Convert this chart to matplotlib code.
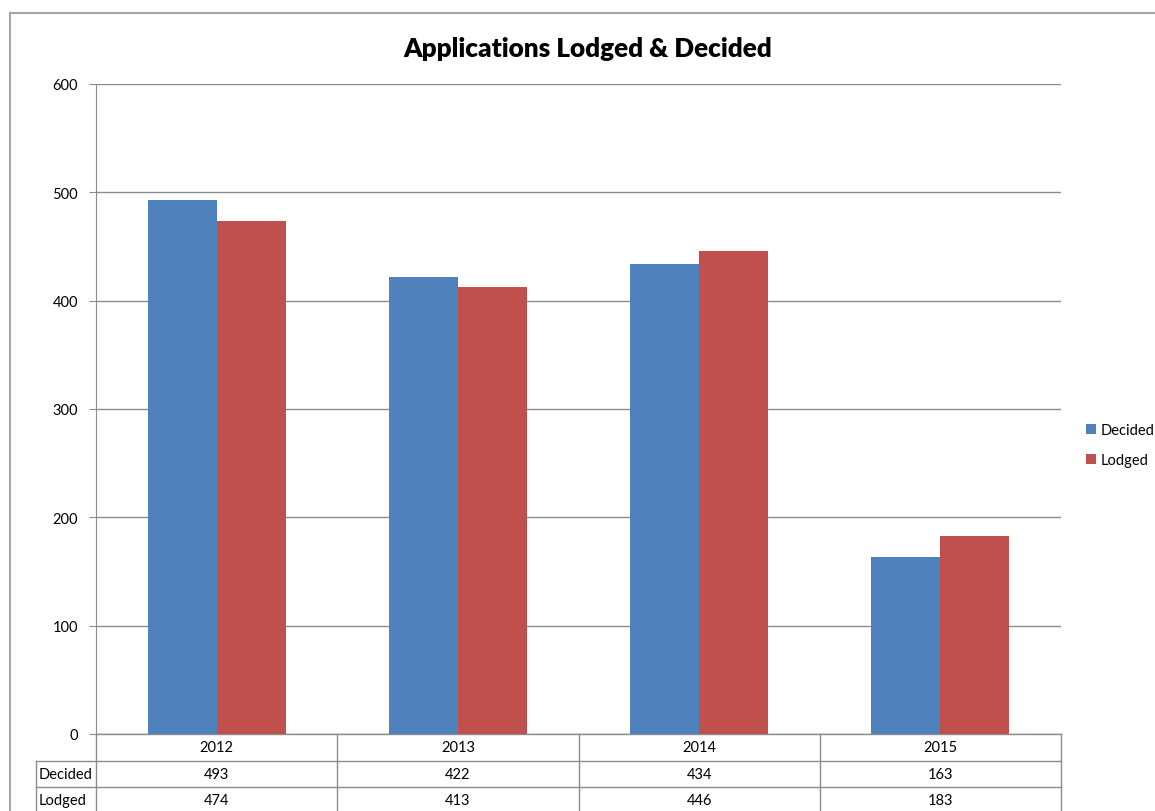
import matplotlib.pyplot as plt
from matplotlib.patches import Rectangle
from matplotlib.transforms import blended_transform_factory
import numpy as np

plt.rcParams['font.family'] = ['Lato', 'DejaVu Sans']

years = ['2012', '2013', '2014', '2015']
decided = [493, 422, 434, 163]
lodged = [474, 413, 446, 183]
series_names = ['Decided', 'Lodged']
colors = ['#4F81BD', '#C0504D']

W, H = 1155, 812
fig = plt.figure(figsize=(W / 100, H / 100), dpi=100)

# outer chart border (cropped at right/bottom)
fig.patches.append(Rectangle((10 / W, -0.1), 1.2, 1 - 14 / H + 0.1, transform=fig.transFigure,
                             fill=False, edgecolor='#a6a6a6', linewidth=1.5))

left, right, top, bottom = 96, 1061, 85, 735
ax = fig.add_axes([left / W, 1 - bottom / H, (right - left) / W, (bottom - top) / H])

x = np.arange(len(years))
bw = 0.286
ax.bar(x - bw / 2, decided, bw, color=colors[0], label=series_names[0], zorder=3)
ax.bar(x + bw / 2, lodged, bw, color=colors[1], label=series_names[1], zorder=3)

ax.set_xlim(-0.5, len(years) - 0.5)
ax.set_ylim(0, 600)
ax.set_yticks(range(0, 601, 100))
ax.yaxis.grid(True, color='#8c8c8c', linewidth=1)
ax.set_axisbelow(True)
for s in ['top', 'right', 'bottom']:
    ax.spines[s].set_visible(False)
ax.spines['left'].set_color('#8c8c8c')
ax.tick_params(axis='y', length=5, color='#8c8c8c', labelsize=10.5, pad=8)
ax.set_xticks([])

ax.set_title('Applications Lodged & Decided', fontsize=18.8, fontweight='heavy', pad=20, x=0.51)

# data table under the axis
tr = blended_transform_factory(ax.transData, ax.transAxes)
rh = 26.5 / (bottom - top)
lc = '#8c8c8c'
n = len(years)
rows = [decided, lodged]
xl = -0.5 - 60 / ((right - left) / n)
# horizontal lines
for i in range(4):
    y = -i * rh
    x0 = -0.5 if i == 0 else xl
    ax.plot([x0, n - 0.5], [y, y], transform=tr, color=lc, lw=1, clip_on=False)
# vertical lines
for k in range(n + 1):
    ax.plot([k - 0.5, k - 0.5], [0, -3 * rh - 0.1], transform=tr, color=lc, lw=1, clip_on=False)
ax.plot([xl, xl], [-rh, -3 * rh - 0.1], transform=tr, color=lc, lw=1, clip_on=False)

for k, yr in enumerate(years):
    ax.text(k, -0.5 * rh, yr, transform=tr, ha='center', va='center', fontsize=10.5)
for r, (name, vals) in enumerate(zip(series_names, rows)):
    yc = -(r + 1.5) * rh
    ax.text(xl + 0.01, yc, name, transform=tr, ha='left', va='center', fontsize=10.5)
    for k, v in enumerate(vals):
        ax.text(k, yc, str(v), transform=tr, ha='center', va='center', fontsize=10.5)

fig.legend(loc='upper left', bbox_to_anchor=(1080 / W, 1 - 418 / H), frameon=False,
           fontsize=10.5, handlelength=0.7, handleheight=0.7, handletextpad=0.3,
           labelspacing=1.1, borderaxespad=0)

fig.savefig('out.png', dpi=100)
